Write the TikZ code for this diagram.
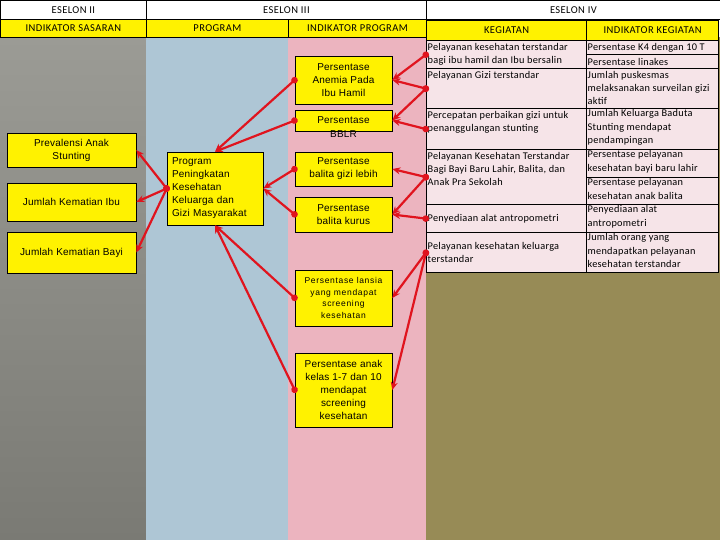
\documentclass[tikz,border=0pt]{standalone}
\usepackage{fontspec}
\setmainfont{Liberation Sans}
\newfontfamily\tabfont[LetterSpace=2.5]{Carlito}
\newfontfamily\headfont[LetterSpace=4]{Carlito}
\newfontfamily\boxfont[LetterSpace=2]{Liberation Sans}
\newfontfamily\smallboxfont[LetterSpace=8]{Liberation Sans}
\usetikzlibrary{arrows.meta}

\definecolor{graytop}{HTML}{9B9B95}
\definecolor{graybot}{HTML}{7A7A74}
\definecolor{progblue}{HTML}{AEC6D5}
\definecolor{indpink}{HTML}{ECB4BF}
\definecolor{kegolive}{HTML}{978B56}
\definecolor{cellpink}{HTML}{F6E4E8}
\definecolor{linkred}{HTML}{E0141E}

\tikzset{
  dotarrow/.tip={Circle[length=6.5pt]},
  headarrow/.tip={Stealth[length=8pt, width=7pt]}
}

\begin{document}
\begin{tikzpicture}[x=1pt, y=-1pt,
    head/.style={draw, line width=0.8pt, anchor=north west, inner sep=0pt, font=\headfont\fontsize{10.5}{12}\selectfont},
    cell/.style={draw, fill=cellpink, line width=1.2pt, anchor=north west, inner sep=0pt},
    celltxt/.style={anchor=north west, align=left, inner xsep=1.5pt, inner ysep=3pt, font=\tabfont\fontsize{10.3}{13.3}\selectfont},
    ybox/.style={draw, fill=yellow, line width=0.6pt, inner sep=2pt, align=center, font=\boxfont\fontsize{10}{13}\selectfont},
    link/.style={draw=linkred, line width=2.2pt, shorten <=-3pt, dotarrow-headarrow}]

    \useasboundingbox (0,0) rectangle (720,540);

    \shade[top color=graytop, bottom color=graybot] (0,37) rectangle (146,540);
    \fill[progblue] (146,37) rectangle (288,540);
    \fill[indpink] (288,37) rectangle (426,540);
    \fill[kegolive] (426,37) rectangle (720,540);

    \node[head, fill=white, minimum width=146pt, minimum height=19pt] (h2) at (0,0) {ESELON II};
    \node[head, fill=white, minimum width=280pt, minimum height=19pt] (h3) at (146,0) {ESELON III};
    \node[head, fill=white, minimum width=294pt, minimum height=19pt] (h4) at (426,0) {ESELON IV};
    \node[head, fill=yellow, minimum width=146pt, minimum height=18pt] (sas) at (0,19) {INDIKATOR SASARAN};
    \node[head, fill=yellow, minimum width=142pt, minimum height=18pt] (prg) at (146,19) {PROGRAM};
    \node[head, fill=yellow, minimum width=138pt, minimum height=18pt] (inp) at (288,19) {INDIKATOR PROGRAM};
    \node[head, fill=yellow, line width=1.2pt, minimum width=160pt, minimum height=20pt] (keg) at (426,20) {KEGIATAN};
    \node[head, fill=yellow, line width=1.2pt, minimum width=132pt, minimum height=20pt] (ink) at (586,20) {INDIKATOR KEGIATAN};

    \node[cell, minimum width=160pt, minimum height=28pt] (k1) at (426,40) {};
    \node[cell, minimum width=160pt, minimum height=40pt] (k2) at (426,68) {};
    \node[cell, minimum width=160pt, minimum height=41pt] (k3) at (426,108) {};
    \node[cell, minimum width=160pt, minimum height=55pt] (k4) at (426,149) {};
    \node[cell, minimum width=160pt, minimum height=28pt] (k5) at (426,204) {};
    \node[cell, minimum width=160pt, minimum height=40pt] (k6) at (426,232) {};
    \node[cell, minimum width=132pt, minimum height=14pt] (i1a) at (586,40) {};
    \node[cell, minimum width=132pt, minimum height=14pt] (i1b) at (586,54) {};
    \node[cell, minimum width=132pt, minimum height=40pt] (i2) at (586,68) {};
    \node[cell, minimum width=132pt, minimum height=41pt] (i3) at (586,108) {};
    \node[cell, minimum width=132pt, minimum height=28pt] (i4a) at (586,149) {};
    \node[cell, minimum width=132pt, minimum height=27pt] (i4b) at (586,177) {};
    \node[cell, minimum width=132pt, minimum height=28pt] (i5) at (586,204) {};
    \node[cell, minimum width=132pt, minimum height=40pt] (i6) at (586,232) {};

    \node[celltxt] (k1t) at (k1.north west) {Pelayanan kesehatan terstandar\\bagi ibu hamil dan Ibu bersalin};
    \node[celltxt] (k2t) at (k2.north west) {Pelayanan Gizi terstandar};
    \node[celltxt] (k3t) at (k3.north west) {Percepatan perbaikan gizi untuk\\penanggulangan stunting};
    \node[celltxt] (k4t) at (k4.north west) {Pelayanan Kesehatan Terstandar\\Bagi Bayi Baru Lahir, Balita, dan\\Anak Pra Sekolah};
    \node[celltxt, anchor=west] (k5t) at (k5.west) {Penyediaan alat antropometri};
    \node[celltxt, anchor=west] (k6t) at (k6.west) {Pelayanan kesehatan keluarga\\terstandar};
    \node[celltxt, anchor=west] (i1at) at (i1a.west) {Persentase K4 dengan 10 T};
    \node[celltxt, anchor=west] (i1bt) at (i1b.west) {Persentase linakes};
    \node[celltxt] (i2t) at (i2.north west) {Jumlah puskesmas\\melaksanakan surveilan gizi\\aktif};
    \node[celltxt, inner ysep=1.5pt] (i3t) at (i3.north west) {Jumlah Keluarga Baduta\\Stunting mendapat\\pendampingan};
    \node[celltxt, inner ysep=1.5pt] (i4at) at (i4a.north west) {Persentase pelayanan\\kesehatan bayi baru lahir};
    \node[celltxt, inner ysep=1.5pt] (i4bt) at (i4b.north west) {Persentase pelayanan\\kesehatan anak balita};
    \node[celltxt, inner ysep=1.5pt] (i5t) at (i5.north west) {Penyediaan alat\\antropometri};
    \node[celltxt, inner ysep=1.5pt] (i6t) at (i6.north west) {Jumlah orang yang\\mendapatkan pelayanan\\kesehatan terstandar};

    \node[ybox, minimum width=129pt, minimum height=34pt] (is1) at (71.5,150) {Prevalensi Anak\\Stunting};
    \node[ybox, minimum width=129pt, minimum height=38pt] (is2) at (71.5,202) {Jumlah Kematian Ibu};
    \node[ybox, minimum width=129pt, minimum height=41pt] (is3) at (71.5,252.5) {Jumlah Kematian Bayi};

    \node[ybox, minimum width=96pt, minimum height=73pt, text width=86pt, align=left] (prog) at (215,188.5) {Program\\Peningkatan\\Kesehatan\\Keluarga dan\\Gizi Masyarakat};

    \node[ybox, minimum width=97pt, minimum height=48pt] (ip1) at (343.5,80) {Persentase\\Anemia Pada\\Ibu Hamil};
    \node[ybox, minimum width=97pt, minimum height=21pt] (ip2) at (343.5,120.5) {Persentase};
    \node[inner sep=0pt, font=\boxfont\fontsize{10}{13}\selectfont] (ip2b) at (343.5,134) {BBLR};
    \node[ybox, minimum width=97pt, minimum height=34pt] (ip3) at (343.5,169) {Persentase\\balita gizi lebih};
    \node[ybox, minimum width=97pt, minimum height=35pt] (ip4) at (343.5,214.5) {Persentase\\balita kurus};
    \node[ybox, minimum width=97pt, minimum height=56pt, font=\smallboxfont\fontsize{8.5}{11.7}\selectfont] (ip5) at (343.5,298) {Persentase lansia\\yang mendapat\\screening\\kesehatan};
    \node[ybox, minimum width=97pt, minimum height=74pt] (ip6) at (343.5,390) {Persentase anak\\kelas 1-7 dan 10\\mendapat\\screening\\kesehatan};

    \draw[link] (k1.west) to (ip1.east);
    \draw[link] (k2.west) to (ip1.east);
    \draw[link] (k2.west) to (ip2.east);
    \draw[link] (k3.west) to (ip2.east);
    \draw[link] (k4.west) to (ip3.east);
    \draw[link] (k4.west) to (ip4.east);
    \draw[link] (k5.west) to (ip4.east);
    \draw[link] (k6.west) to (ip5.east);
    \draw[link] (k6.west) to (ip6.east);

    \draw[link] (ip1.west) to (prog.north);
    \draw[link] (ip2.west) to (prog.north);
    \draw[link] (ip3.west) to (prog.east);
    \draw[link] (ip4.west) to (prog.east);
    \draw[link] (ip5.west) to (prog.south);
    \draw[link] (ip6.west) to (prog.south);

    \draw[link] (prog.west) to (is1.east);
    \draw[link] (prog.west) to (is2.east);
    \draw[link] (prog.west) to (is3.east);

  \end{tikzpicture}
\end{document}
